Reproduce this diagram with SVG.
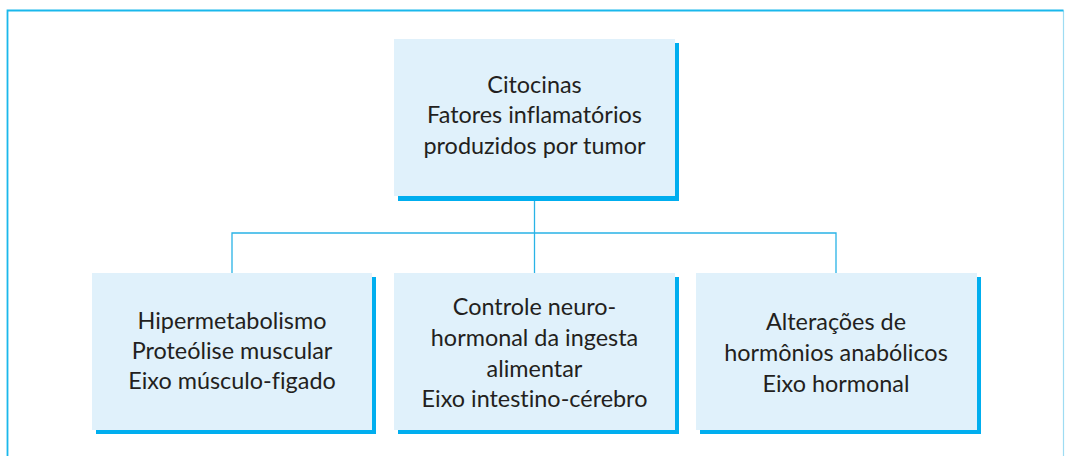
<svg xmlns="http://www.w3.org/2000/svg" width="1065" height="456" viewBox="0 0 1065 456">
<style>
.frame{fill:none;stroke:#1AB8EC;stroke-width:1.8}
.frame2{fill:none;stroke:#9EDCF3;stroke-width:1.2}
.shadow{fill:#00AEEF}
.box{fill:#E0F1FB}
.conn{fill:none;stroke:#29B3E6;stroke-width:1.3}
text{font-family:"Lato","Liberation Sans",sans-serif;font-size:23.4px;fill:#231F20;text-anchor:middle;font-variant-ligatures:none}
</style>
<rect x="0" y="0" width="1065" height="456" fill="#FFFFFF"/>
<path class="frame2" d="M1063.5,10.5 V460"/>
<path class="frame" d="M7.5,460 V10.5 H1063.5"/>
<g id="connectors">
<path class="conn" d="M534.5,196 V273"/>
<path class="conn" d="M232,273 V233 H836 V273"/>
</g>
<g id="node-top">
<rect class="shadow" x="398" y="43" width="281" height="158"/>
<rect class="box" x="394" y="39" width="281" height="157"/>
<text x="534.5" y="92.5">Citocinas</text>
<text x="534.5" y="123">Fatores inflamatórios</text>
<text x="534.5" y="153.5">produzidos por tumor</text>
</g>
<g id="node-left">
<rect class="shadow" x="96" y="277" width="280" height="157"/>
<rect class="box" x="92" y="273" width="280" height="157"/>
<text x="232" y="328.5">Hipermetabolismo</text>
<text x="232" y="358.5">Proteólise muscular</text>
<text x="232" y="388.5">Eixo músculo-figado</text>
</g>
<g id="node-middle">
<rect class="shadow" x="398" y="277" width="281" height="157"/>
<rect class="box" x="394" y="273" width="281" height="157"/>
<text x="534.5" y="315">Controle neuro-</text>
<text x="534.5" y="346">hormonal da ingesta</text>
<text x="534.5" y="377">alimentar</text>
<text x="534.5" y="407">Eixo intestino-cérebro</text>
</g>
<g id="node-right">
<rect class="shadow" x="700" y="277" width="281" height="157"/>
<rect class="box" x="696" y="273" width="281" height="157"/>
<text x="836" y="330">Alterações de</text>
<text x="836" y="360.5">hormônios anabólicos</text>
<text x="836" y="391.5">Eixo hormonal</text>
</g>
</svg>
